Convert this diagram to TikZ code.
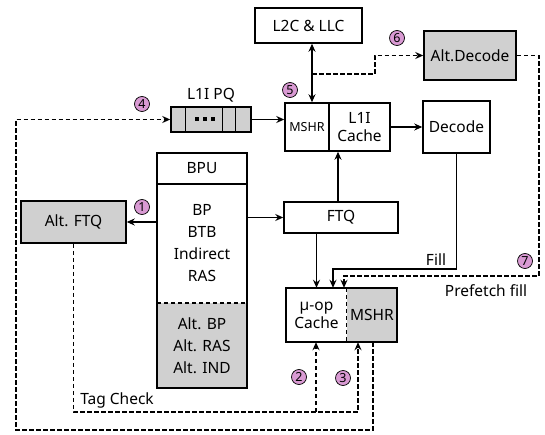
\documentclass[tikz,border=0pt]{standalone}
\usepackage{fontspec}
\setmainfont{Noto Sans}
\usetikzlibrary{arrows.meta,calc}
\definecolor{boxgray}{HTML}{D0D0D0}
\definecolor{pinkc}{HTML}{D99AD3}
\begin{document}
\begin{tikzpicture}[x=1pt,y=-1pt,
  box/.style={draw, line width=1.5pt, inner sep=0pt, align=center, font=\fontsize{15.5}{20}\selectfont},
  plain/.style={inner sep=0pt, align=center, font=\fontsize{15.5}{20}\selectfont},
  lbl/.style={inner sep=0pt, font=\fontsize{15.5}{17}\selectfont},
  arr/.style={line width=1.5pt, -{Stealth[length=8pt,width=7pt]}},
  darr/.style={line width=1.5pt, {Stealth[length=8pt,width=7pt]}-{Stealth[length=8pt,width=7pt]}},
  dsh/.style={line width=1.3pt, dash pattern=on 4.5pt off 2.5pt},
  darrow/.style={dsh, -{Stealth[length=8pt,width=7pt]}},
  num/.style={circle, draw, line width=0.7pt, fill=pinkc, minimum size=15pt, inner sep=0pt, font=\fontsize{12.5}{12.5}\selectfont\bfseries}]
\useasboundingbox (0,0) rectangle (545,435);

% boxes
\node[box, minimum width=107pt, minimum height=35pt] (l2c) at (308.5,25.5) {L2C \& LLC};
\node[box, fill=boxgray, minimum width=92pt, minimum height=49pt] (altdec) at (470,55.5) {Alt.Decode};
\node[box, minimum width=44pt, minimum height=48pt, font=\fontsize{12.5}{14}\selectfont] (mshr1) at (307,127) {MSHR};
\node[box, minimum width=61pt, minimum height=48pt] (l1i) at (359.5,127) {L1I\\[-2pt]Cache};
\node[box, minimum width=67pt, minimum height=52pt] (decode) at (456.5,127) {Decode};

\node[box, fill=boxgray, minimum width=80pt, minimum height=25pt] (pq) at (211,119.5) {};
\node[lbl] (pqlabel) at (211,95) {L1I PQ};
\foreach \dx in {15,52,65} \draw[line width=1.2pt] ($(pq.north west)+(\dx,0)$) -- ($(pq.south west)+(\dx,0)$);
\foreach \dx in {-14.5,-6.5,1.5} \fill ($(pq.center)+(\dx-2,-2)$) rectangle ++(4,4);

\node[box, minimum width=90pt, minimum height=31pt] (bpu) at (202,168.5) {BPU};
\node[plain, minimum width=90pt, minimum height=119pt, font=\fontsize{15.5}{22}\selectfont] (bpubody) at (202,243.5) {BP\\BTB\\Indirect\\RAS};
\node[plain, fill=boxgray, minimum width=90pt, minimum height=85pt, font=\fontsize{15.5}{22}\selectfont] (bpualt) at (202,345.5) {Alt. BP\\Alt. RAS\\Alt. IND};
\draw[line width=1.5pt] (bpubody.north west) rectangle (bpualt.south east);
\draw[dsh, line width=1.5pt] (bpualt.north west) -- (bpualt.north east);

\node[box, fill=boxgray, minimum width=105pt, minimum height=42pt] (altftq) at (73.5,222) {Alt. FTQ};
\node[box, minimum width=114pt, minimum height=31pt] (ftq) at (341,217.5) {FTQ};

\node[plain, minimum width=61pt, minimum height=54pt] (uop) at (316.5,315) {µ-op\\[-2pt]Cache};
\node[plain, fill=boxgray, minimum width=50pt, minimum height=54pt] (mshr2) at (372,315) {MSHR};
\draw[line width=1.5pt] (uop.north west) rectangle (mshr2.south east);
\draw[dsh] (mshr2.north west) -- (mshr2.south west);

% coordinates
\coordinate (j) at (312,74);
\coordinate (ft) at (338,0);
\coordinate (fillx) at (333,269);
\coordinate (pfx) at (344,276);
\coordinate (pfr) at (539,55.5);
\coordinate (tagb) at (71,412);
\coordinate (tag2) at (316,412);
\coordinate (tag3) at (358,412);
\coordinate (outb) at (373,430);
\coordinate (outl) at (16,430);

% solid connectors
\draw[darr] (l2c.south -| j) -- (mshr1.north -| j);
\draw[arr] (pq.east) -- (pq.east -| mshr1.west);
\draw[arr] (l1i.east) -- (decode.west);
\draw[arr] (ftq.north -| ft) -- (l1i.south -| ft);
\draw[arr] (bpubody.east |- ftq.west) -- (ftq.west);
\draw[arr] (bpubody.west |- altftq.east) -- (altftq.east);
\draw[arr] (ftq.south -| uop.north) -- (uop.north);
\draw[arr] (decode.south) |- (fillx) -- (uop.north -| fillx);

% dashed connectors
\draw[darrow] (j) -| (375,55.5) -- (altdec.west);
\draw[darrow] (altdec.east) -- (pfr) |- (pfx) -- (mshr2.north -| pfx);
\draw[darrow] (altftq.south) |- (tag3) -- (mshr2.south -| tag3);
\draw[darrow] (tag2) -- (uop.south -| tag2);
\draw[darrow] (mshr2.south -| outb) -- (outb) -- (outl) |- (pq.west);

% labels
\node[lbl] (fill) at (436,260) {Fill};
\node[lbl] (pfill) at (486,291) {Prefetch fill};
\node[lbl] (tagc) at (117,400) {Tag Check};

% numbers
\node[num] (n1) at (142,207) {1};
\node[num] (n2) at (299,377) {2};
\node[num] (n3) at (343,378) {3};
\node[num] (n4) at (142,104) {4};
\node[num] (n5) at (290,90) {5};
\node[num] (n6) at (397,38) {6};
\node[num] (n7) at (525,261) {7};
\end{tikzpicture}
\end{document}
